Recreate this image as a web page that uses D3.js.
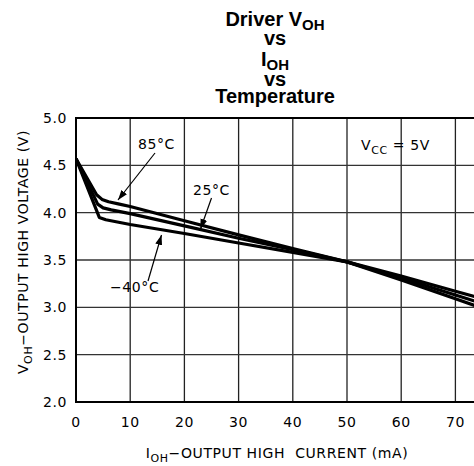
<!DOCTYPE html>
<html><head><meta charset="utf-8">
<script src="https://cdn.jsdelivr.net/npm/d3@7"></script>
<style>body{margin:0;background:#fff}svg{display:block}</style>
</head><body>
<svg id="c" width="474" height="466"></svg>
<script>
const xTicks = [0,10,20,30,40,50,60,70,80];
const xLabels = ["0","10","20","30","40","50","60","70"];
const yTicks = [2.0,2.5,3.0,3.5,4.0,4.5,5.0];
const current85 = [0,3.8,4.8,6,8,10,20,30,40,50,60,70,80];
const volt85    = [4.57,4.19,4.14,4.115,4.09,4.065,3.915,3.765,3.62,3.48,3.29,3.09,2.89];
const current25 = [0,4.0,5,6.5,10,20,30,40,50,60,70,80];
const volt25    = [4.57,4.09,4.05,4.03,3.99,3.86,3.73,3.61,3.48,3.31,3.13,2.95];
const currentM40 = [0,4.3,5.5,10,20,30,40,50,60,70,80];
const voltM40    = [4.57,3.95,3.925,3.875,3.78,3.68,3.58,3.48,3.33,3.17,3.01];

const svg = d3.select("#c");
const x = d3.scaleLinear().domain([0,80]).range([76,509.6]);
const y = d3.scaleLinear().domain([2,5]).range([402,118]);
const tf = "'DejaVu Sans', sans-serif";

// grid
svg.append("g").selectAll("line").data(xTicks.slice(1)).join("line")
  .attr("x1",d=>x(d)).attr("x2",d=>x(d)).attr("y1",y(5)).attr("y2",y(2))
  .attr("stroke","#222").attr("stroke-width",1.3);
svg.append("g").selectAll("line").data(yTicks.slice(1,-1)).join("line")
  .attr("x1",x(0)).attr("x2",x(80)).attr("y1",d=>y(d)).attr("y2",d=>y(d))
  .attr("stroke","#333").attr("stroke-width",1.3);
// border
svg.append("path").attr("d",`M${x(80)},${y(5)}H${x(0)}V${y(2)}H${x(80)}`)
  .attr("fill","none").attr("stroke","#000").attr("stroke-width",2);

// tick labels
svg.append("g").selectAll("text").data(yTicks).join("text")
  .attr("x",67).attr("y",d=>y(d)).attr("dy","0.36em").attr("text-anchor","end")
  .attr("font-family",tf).attr("font-size",14).attr("letter-spacing",0.6)
  .text(d=>d.toFixed(1));
svg.append("g").selectAll("text").data(xLabels).join("text")
  .attr("x",d=>x(+d)).attr("y",427).attr("text-anchor","middle")
  .attr("font-family",tf).attr("font-size",14).attr("letter-spacing",0.6)
  .text(d=>d);

// curves
const line = d3.line().x(d=>x(d[0])).y(d=>y(d[1]));
const series = [d3.zip(current85,volt85), d3.zip(current25,volt25), d3.zip(currentM40,voltM40)];
const defs = svg.append("defs");
defs.append("clipPath").attr("id","cp").append("rect")
  .attr("x",x(0)).attr("y",y(5)).attr("width",x(80)-x(0)).attr("height",y(2)-y(5));
svg.append("g").attr("clip-path","url(#cp)").selectAll("path").data(series).join("path")
  .attr("d",line).attr("fill","none").attr("stroke","#000").attr("stroke-width",3.2)
  .attr("stroke-linejoin","round");

// arrows
defs.append("marker").attr("id","ah").attr("viewBox","0 0 10 10").attr("refX",10).attr("refY",5)
  .attr("markerWidth",10).attr("markerHeight",10).attr("markerUnits","userSpaceOnUse").attr("orient","auto")
  .append("path").attr("d","M0,1.5L10,5L0,8.5Z").attr("fill","#000");
const arrows = [[155,153,118,200],[211.5,198,200.5,229],[148,281,161.5,235]];
svg.append("g").selectAll("line").data(arrows).join("line")
  .attr("x1",d=>d[0]).attr("y1",d=>d[1]).attr("x2",d=>d[2]).attr("y2",d=>d[3])
  .attr("stroke","#000").attr("stroke-width",1.2).attr("marker-end","url(#ah)");

function lab(t,xx,yy){
  svg.append("text").attr("x",xx).attr("y",yy).attr("font-family",tf).attr("font-size",14)
    .attr("letter-spacing",0.6).text(t);
}
lab("85°C",138,149);
lab("25°C",193,195);
lab("−40°C",110,292);
const vcc = svg.append("text").attr("x",361).attr("y",150).attr("font-family",tf).attr("font-size",14).attr("letter-spacing",0.6);
vcc.append("tspan").text("V");
vcc.append("tspan").attr("font-size",11).attr("dy",4).text("CC");
vcc.append("tspan").attr("dy",-4).text(" = 5V");

// axis titles
const xt = svg.append("text").attr("x",277).attr("y",458).attr("text-anchor","middle")
  .attr("font-family",tf).attr("font-size",14).attr("letter-spacing",0.6).attr("xml:space","preserve");
xt.append("tspan").text("I");
xt.append("tspan").attr("font-size",11).attr("dy",4).text("OH");
xt.append("tspan").attr("dy",-4).text("−OUTPUT HIGH  CURRENT (mA)");
const yt = svg.append("text").attr("transform","translate(28,252) rotate(-90)").attr("text-anchor","middle")
  .attr("font-family",tf).attr("font-size",14).attr("letter-spacing",0.6);
yt.append("tspan").text("V");
yt.append("tspan").attr("font-size",11).attr("dy",4).text("OH");
yt.append("tspan").attr("dy",-4).text("−OUTPUT HIGH VOLTAGE (V)");

// title (one text element, lines as tspans)
const bf = "'Liberation Sans', Arial, sans-serif";
const title = svg.append("text").attr("text-anchor","middle")
  .attr("font-family",bf).attr("font-weight","bold").attr("font-size",20);
const tlines = [[["Driver V"],["OH",1]],[["vs"]],[["I"],["OH",1]],[["vs"]],[["Temperature"]]];
const tbase = [26,45,66,86,103];
tlines.forEach((parts,i)=>{
  const g = title.append("tspan").attr("x",275).attr("y",tbase[i]);
  parts.forEach(p=>{
    const s = g.append("tspan").text(p[0]);
    if(p[1]) s.attr("font-size",15).attr("dy",4);
  });
});
</script>
</body></html>
